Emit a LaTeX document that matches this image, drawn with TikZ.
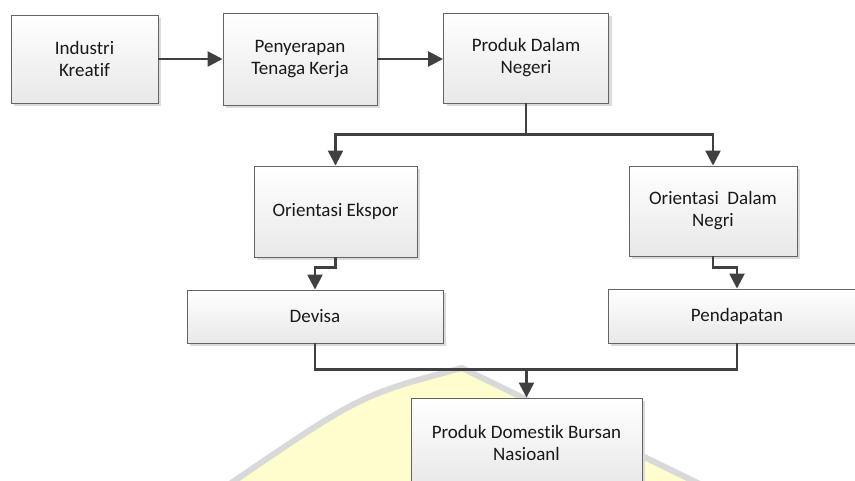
\documentclass[tikz,border=0pt]{standalone}
\usepackage{fontspec}
\setmainfont{Carlito}[Ligatures={NoCommon}]
\usetikzlibrary{arrows.meta,shadows}
\definecolor{lineC}{HTML}{404040}
\definecolor{boxB}{HTML}{646464}
\definecolor{wmY}{RGB}{255,252,206}
\definecolor{wmG}{HTML}{D9D9D9}
\begin{document}
\begin{tikzpicture}[x=1pt,y=-1pt,
  box/.style={draw=boxB, line width=0.9pt, top color=white, bottom color=black!9,
    align=center, inner sep=0pt, font=\fontsize{19}{22}\selectfont, text=black!90,
    drop shadow={shadow xshift=3pt, shadow yshift=-3pt, fill=black!14, opacity=1}},
  conn/.style={draw=lineC, line width=2.5pt},
  arr/.style={conn, -{Triangle[length=15pt,width=15pt]}}]
\useasboundingbox (0,0) rectangle (855,481);
\clip (0,0) rectangle (855,481);
% watermark
\fill[wmY] (230,485) .. controls (360,395) .. (462,368) -- (702,485) -- cycle;
\draw[wmG, line width=6pt, line join=round] (224,488) .. controls (360,395) .. (462,368) -- (712,490);
% nodes
\node[box, minimum width=147pt, minimum height=88pt] (ik) at (84.5,59) {Industri\\Kreatif};
\node[box, minimum width=154pt, minimum height=92pt] (pt) at (300,59) {Penyerapan\\Tenaga Kerja};
\node[box, minimum width=165pt, minimum height=90pt] (pdn) at (526,58) {Produk Dalam\\Negeri};
\node[box, minimum width=163pt, minimum height=91pt] (oe) at (335.5,211.5) {Orientasi Ekspor};
\node[box, minimum width=168pt, minimum height=90pt] (odn) at (713,211) {Orientasi\ \ Dalam\\Negri};
\node[box, minimum width=256pt, minimum height=53pt] (dev) at (315,316.5) {Devisa};
\node[box, minimum width=258pt, minimum height=54pt] (pen) at (737,316) {Pendapatan};
\node[box, minimum width=231pt, minimum height=90pt] (pdb) at (526.5,443) {Produk Domestik Bursan\\Nasioanl};
% connectors
\draw[arr] (ik.east) -- (pt.west);
\draw[arr] (pt.east) -- (pt.east -| pdn.west);
\path (pdn.south) ++(0,31) coordinate (b1);
\draw[arr] (pdn.south) -- (b1) -| (oe.north);
\draw[arr] (b1) -| (odn.north);
\draw[arr] (oe.south) -- ++(0,10) -| (dev.north);
\draw[arr] (odn.south) -- ++(0,11) -| (pen.north);
\path (dev.south) ++(0,26) coordinate (b2);
\draw[conn] (dev.south) -- (b2) -| (pen.south);
\draw[arr] (b2 -| pdb.north) -- (pdb.north);
\end{tikzpicture}
\end{document}
